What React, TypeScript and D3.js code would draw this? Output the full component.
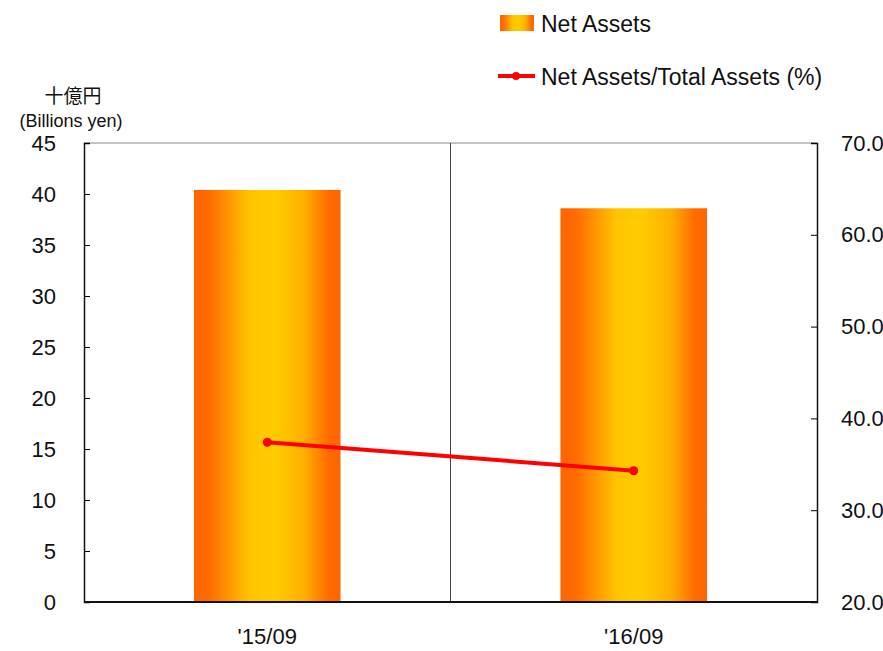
import React, { useEffect, useRef } from 'react';
import * as d3 from 'd3';

const categories = ["'15/09", "'16/09"];
const netAssets = [40.4, 38.6];
const equityRatio = [37.4, 34.3];
const leftTicks = [0, 5, 10, 15, 20, 25, 30, 35, 40, 45];
const rightTicks = [20, 30, 40, 50, 60, 70];

const W = 883;
const H = 651;
const margin = { top: 143, right: 66, bottom: 49, left: 84 };

function App() {
  const ref = useRef<SVGSVGElement>(null);

  useEffect(() => {
    const svg = d3.select(ref.current);
    svg.selectAll('*').remove();

    const x0 = margin.left;
    const x1 = W - margin.right;
    const y0 = H - margin.bottom;
    const y1 = margin.top;
    const font = "'Liberation Sans', Arial, sans-serif";

    const x = d3.scaleBand().domain(categories).range([x0, x1]);
    const yL = d3.scaleLinear().domain([0, 45]).range([y0, y1]);
    const yR = d3.scaleLinear().domain([20, 70]).range([y0, y1]);

    // gradient for bars
    const defs = svg.append('defs');
    const grad = defs.append('linearGradient').attr('id', 'barGrad')
      .attr('x1', '0%').attr('x2', '100%').attr('y1', '0%').attr('y2', '0%');
    grad.append('stop').attr('offset', '0%').attr('stop-color', '#ff6600');
    grad.append('stop').attr('offset', '10%').attr('stop-color', '#ff6a00');
    grad.append('stop').attr('offset', '38%').attr('stop-color', '#ffc400');
    grad.append('stop').attr('offset', '55%').attr('stop-color', '#ffcc00');
    grad.append('stop').attr('offset', '75%').attr('stop-color', '#ffb000');
    grad.append('stop').attr('offset', '92%').attr('stop-color', '#ff6a00');
    grad.append('stop').attr('offset', '100%').attr('stop-color', '#ff6600');

    // top border and category separator
    svg.append('line').attr('x1', x0).attr('x2', x1).attr('y1', y1).attr('y2', y1)
      .attr('stroke', '#888').attr('stroke-width', 1);
    svg.append('line').attr('x1', x(categories[1])!).attr('x2', x(categories[1])!)
      .attr('y1', y1).attr('y2', y0).attr('stroke', '#444').attr('stroke-width', 1);

    // bars
    const barW = x.bandwidth() * 0.4;
    svg.selectAll('rect.bar').data(netAssets).enter().append('rect')
      .attr('class', 'bar')
      .attr('x', (d, i) => x(categories[i])! + (x.bandwidth() - barW) / 2)
      .attr('y', d => yL(d))
      .attr('width', barW)
      .attr('height', d => y0 - yL(d))
      .attr('fill', 'url(#barGrad)');

    // left axis
    const gL = svg.append('g').attr('transform', `translate(${x0},0)`)
      .call(d3.axisLeft(yL).tickValues(leftTicks).tickSize(-6).tickPadding(28).tickFormat(d3.format('d')));
    gL.select('.domain').attr('stroke', '#111').attr('stroke-width', 1.5);
    gL.selectAll('text').attr('font-size', 22).attr('font-family', font).attr('fill', '#111');

    // right axis
    const gR = svg.append('g').attr('transform', `translate(${x1},0)`)
      .call(d3.axisRight(yR).tickValues(rightTicks).tickSize(-6).tickPadding(24).tickFormat(d3.format('.1f')));
    gR.select('.domain').attr('stroke', '#111').attr('stroke-width', 1.5);
    gR.selectAll('text').attr('font-size', 22).attr('font-family', font).attr('fill', '#111');

    // bottom axis
    svg.append('line').attr('x1', x0).attr('x2', x1).attr('y1', y0).attr('y2', y0)
      .attr('stroke', '#111').attr('stroke-width', 2);
    svg.selectAll('text.xlab').data(categories).enter().append('text')
      .attr('class', 'xlab')
      .attr('x', d => x(d)! + x.bandwidth() / 2)
      .attr('y', 644)
      .attr('text-anchor', 'middle')
      .attr('font-size', 22).attr('font-family', font).attr('fill', '#111')
      .text(d => d);

    // line
    const line = d3.line<number>()
      .x((d, i) => x(categories[i])! + x.bandwidth() / 2)
      .y(d => yR(d));
    svg.append('path').datum(equityRatio).attr('d', line)
      .attr('fill', 'none').attr('stroke', '#ff0000').attr('stroke-width', 4);
    svg.selectAll('circle.pt').data(equityRatio).enter().append('circle')
      .attr('class', 'pt')
      .attr('cx', (d, i) => x(categories[i])! + x.bandwidth() / 2)
      .attr('cy', d => yR(d))
      .attr('r', 4.5).attr('fill', '#ff0000');

    // axis title
    svg.append('text').attr('x', 73).attr('y', 103).attr('text-anchor', 'middle')
      .attr('font-size', 19).attr('font-family', "'Noto Sans CJK JP', sans-serif").attr('fill', '#111')
      .text('十億円');
    svg.append('text').attr('x', 71).attr('y', 127).attr('text-anchor', 'middle')
      .attr('font-size', 18).attr('font-family', font).attr('fill', '#111')
      .text('(Billions yen)');

    // legend
    const lg = svg.append('g');
    lg.append('rect').attr('x', 500).attr('y', 15).attr('width', 34).attr('height', 16)
      .attr('fill', 'url(#barGrad)');
    lg.append('text').attr('x', 541).attr('y', 32).attr('font-size', 23)
      .attr('font-family', font).attr('fill', '#111').text('Net Assets');
    lg.append('line').attr('x1', 498).attr('x2', 535).attr('y1', 76).attr('y2', 76)
      .attr('stroke', '#ff0000').attr('stroke-width', 4);
    lg.append('circle').attr('cx', 516).attr('cy', 76).attr('r', 4).attr('fill', '#ff0000');
    lg.append('text').attr('x', 541).attr('y', 85).attr('font-size', 23)
      .attr('font-family', font).attr('fill', '#111').text('Net Assets/Total Assets (%)');
  }, []);

  return (
    <svg ref={ref} width={W} height={H} style={{ position: 'absolute', left: 0, top: 0, background: '#fff' }} />
  );
}

export default App;
